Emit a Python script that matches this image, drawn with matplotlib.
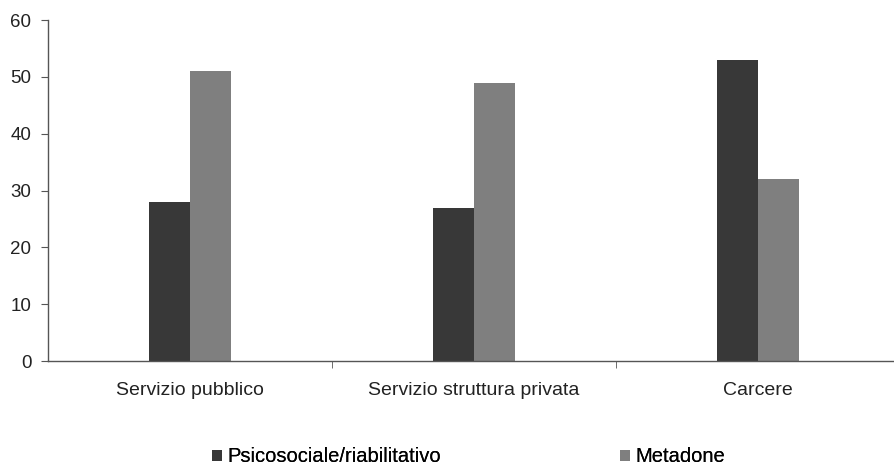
import matplotlib
matplotlib.use("Agg")
import matplotlib.pyplot as plt
from matplotlib.patches import Patch
import numpy as np

categories = ["Servizio pubblico", "Servizio struttura privata", "Carcere"]
series_names = ["Psicosociale/riabilitativo", "Metadone"]
psicosociale = [28, 27, 53]
metadone = [51, 49, 32]
yticks = [0, 10, 20, 30, 40, 50, 60]

colors = ["#383838", "#7f7f7f"]
plt.rcParams['font.family'] = ['Liberation Sans', 'DejaVu Sans']

W, H = 894, 468
fig = plt.figure(figsize=(W / 100, H / 100), dpi=100)
ax = fig.add_axes([48 / W, 1 - 361 / H, 852 / W, (361 - 20) / H])

x = np.arange(len(categories))
w = 0.144
ax.bar(x - w / 2, psicosociale, width=w, color=colors[0], edgecolor='none')
ax.bar(x + w / 2, metadone, width=w, color=colors[1], edgecolor='none')

ax.set_xlim(-0.5, len(categories) - 0.5)
ax.set_ylim(0, 60)
ax.set_yticks(yticks)
ax.set_yticklabels([str(v) for v in yticks], fontsize=13.5, color='#222222')
ax.set_xticks(x)
ax.set_xticklabels(categories, fontsize=14, color='#222222')
ax.tick_params(axis='x', length=0, pad=15)
ax.set_xticks(np.arange(1, len(categories)) - 0.5, minor=True)
ax.tick_params(axis='x', which='minor', length=5, color='#555555', direction='out')
ax.tick_params(axis='y', length=5, color='#555555', direction='out', pad=7)

for s in ['top', 'right']:
    ax.spines[s].set_visible(False)
for s in ['left', 'bottom']:
    ax.spines[s].set_color('#555555')
    ax.spines[s].set_linewidth(1.0)

legend_x = [212, 620]
for i, name in enumerate(series_names):
    leg = fig.legend([Patch(facecolor=colors[i])], [name], loc='center left',
                     bbox_to_anchor=(legend_x[i] / W, 1 - 457 / H),
                     frameon=False, fontsize=14.5, handlelength=0.5, handleheight=0.5,
                     handletextpad=0.25, borderpad=0, borderaxespad=0)
    fig.add_artist(leg)

fig.savefig("out.png", dpi=100, facecolor='white')
